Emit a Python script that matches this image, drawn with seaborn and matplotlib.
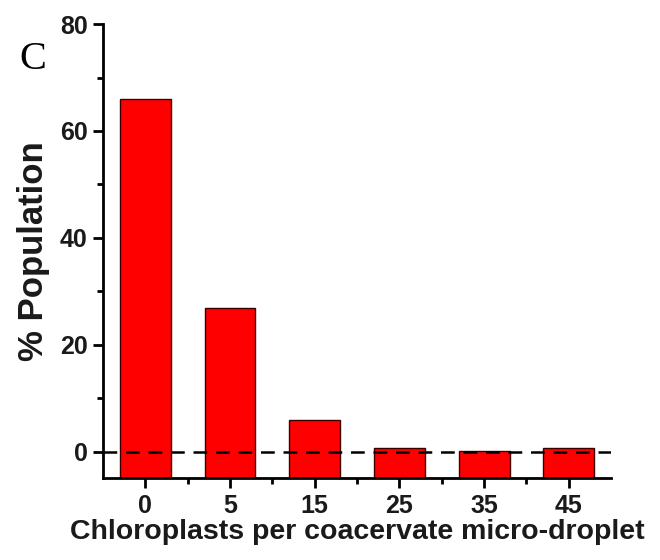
import matplotlib
matplotlib.use("Agg")
import matplotlib.pyplot as plt
import seaborn as sns
import pandas as pd
from matplotlib.ticker import FixedLocator

categories = ["0", "5", "15", "25", "35", "45"]
population = [66.0, 26.8, 5.9, 0.6, 0.1, 0.6]
y_ticks = [0, 20, 40, 60, 80]

sns.set_style("ticks")
plt.rcParams['font.family'] = ['Liberation Sans', 'DejaVu Sans']

df = pd.DataFrame({"cat": categories, "pop": population})

fig = plt.figure(figsize=(6.6, 5.6), dpi=100)
ax = fig.add_axes([0.156, 0.146, 0.770, 0.811])

sns.barplot(data=df, x="cat", y="pop", order=categories, color="#ff0000",
            saturation=1, width=0.6, edgecolor="#3a0000", linewidth=1.0, ax=ax)

ymin, ymax = -5, 80
# Origin-style bars start from the bottom of the axis
for p in ax.patches:
    h = p.get_y() + p.get_height()
    p.set_y(ymin)
    p.set_height(h - ymin)

ax.set_ylim(ymin, ymax)
ax.set_xlim(-0.5, 5.5)
ax.axhline(0, color="black", linestyle=(0, (5.5, 3.5)), linewidth=1.8, zorder=3)

ax.yaxis.set_major_locator(FixedLocator(y_ticks))
ax.yaxis.set_minor_locator(FixedLocator([10, 30, 50, 70]))
ax.xaxis.set_minor_locator(FixedLocator([0.5, 1.5, 2.5, 3.5, 4.5]))

for s in ["top", "right"]:
    ax.spines[s].set_visible(False)
for s in ["left", "bottom"]:
    ax.spines[s].set_linewidth(2)
    ax.spines[s].set_color("black")

ax.tick_params(which="major", direction="out", length=7, width=2, labelsize=18,
               color="black", pad=4)
ax.tick_params(which="minor", direction="out", length=4, width=2, color="black")
for lab in ax.get_xticklabels() + ax.get_yticklabels():
    lab.set_fontweight("bold")
    lab.set_color("#1a1a1a")

ax.set_xlabel("Chloroplasts per coacervate micro-droplet", fontsize=20.5, fontweight="bold",
              color="#1a1a1a", labelpad=1)
ax.set_ylabel("% Population", fontsize=25, fontweight="bold", color="#1a1a1a", labelpad=7)

fig.text(0.049, 0.893, "C", fontsize=29, family=["Liberation Serif", "DejaVu Serif"],
         color="black", ha="center", va="center")

fig.savefig("out.png", dpi=100)
